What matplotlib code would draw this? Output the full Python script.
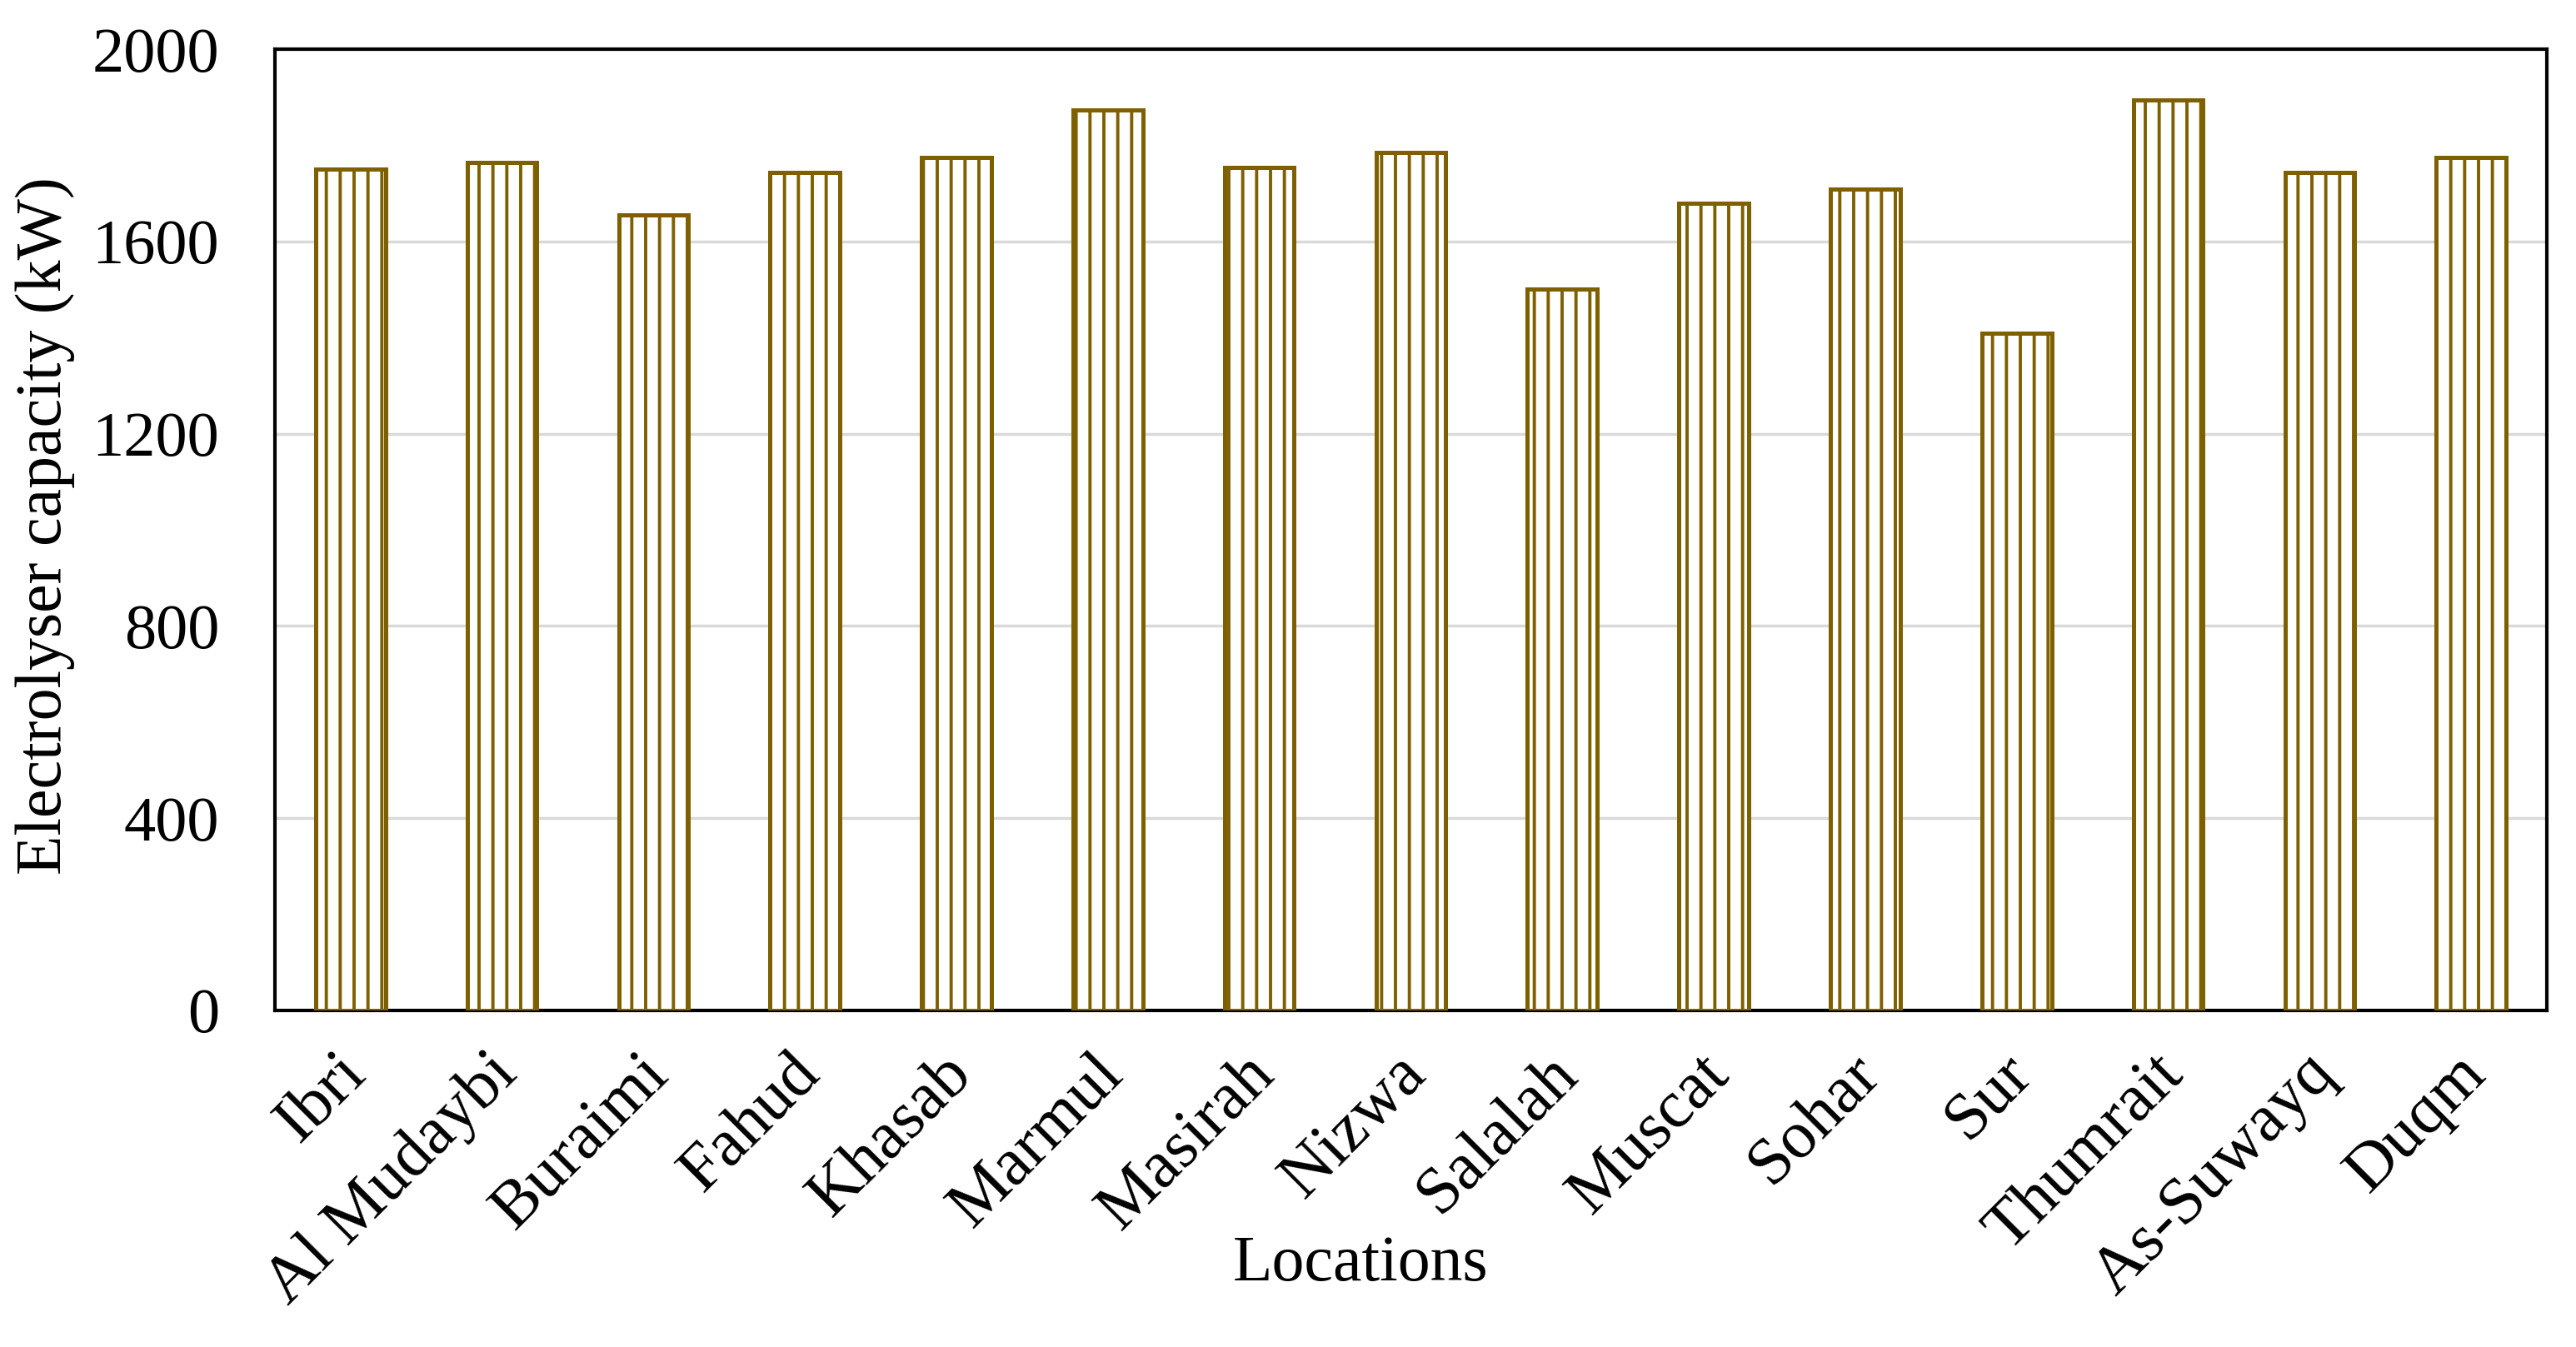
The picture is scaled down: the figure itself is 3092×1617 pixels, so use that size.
import matplotlib
matplotlib.use("Agg")
import matplotlib.pyplot as plt
import matplotlib.transforms as mtransforms

locations = ["Ibri", "Al Mudaybi", "Buraimi", "Fahud", "Khasab", "Marmul", "Masirah",
             "Nizwa", "Salalah", "Muscat", "Sohar", "Sur", "Thumrait", "As-Suwayq", "Duqm"]
capacity_kw = [1750, 1764, 1655, 1744, 1774, 1873, 1754, 1785, 1501, 1679, 1709, 1409,
               1894, 1744, 1774]
yticks = [0, 400, 800, 1200, 1600, 2000]

bar_color = "#7F6000"
plt.rcParams["font.family"] = ["Liberation Serif", "DejaVu Serif"]
plt.rcParams["hatch.linewidth"] = 2.8
plt.rcParams["hatch.color"] = bar_color

fig = plt.figure(figsize=(30.92, 16.17), dpi=100)
ax = fig.add_axes([0.1067, 0.2499, 0.882, 0.7136])

x = list(range(len(locations)))
ax.bar(x, capacity_kw, width=0.46, facecolor="white", edgecolor=bar_color,
       linewidth=3.6, hatch="|", zorder=3)

ax.set_xlim(-0.5, len(locations) - 0.5)
ax.set_ylim(0, 2000)
ax.set_yticks(yticks)
ax.set_yticklabels([str(v) for v in yticks], fontsize=55)
ax.set_xticks(x)
ax.set_xticklabels(locations, rotation=45, ha="right", rotation_mode="anchor", fontsize=58)
ax.tick_params(axis="y", length=0, pad=48)
ax.tick_params(axis="x", length=0, pad=28)
offset = mtransforms.ScaledTranslation(-14 / 72, 0, fig.dpi_scale_trans)
for lbl in ax.get_xticklabels():
    lbl.set_transform(lbl.get_transform() + offset)
ax.grid(axis="y", color="#D9D9D9", linewidth=2.5, zorder=0)
ax.set_axisbelow(True)
for s in ax.spines.values():
    s.set_linewidth(3.0)
    s.set_color("black")

fig.text(0.006, 0.61, "Electrolyser capacity (kW)", rotation=90, va="center", ha="left", fontsize=56)
fig.text(0.528, 0.061, "Locations", ha="center", va="center", fontsize=56)

fig.savefig("out.png", dpi=100, facecolor="white")
